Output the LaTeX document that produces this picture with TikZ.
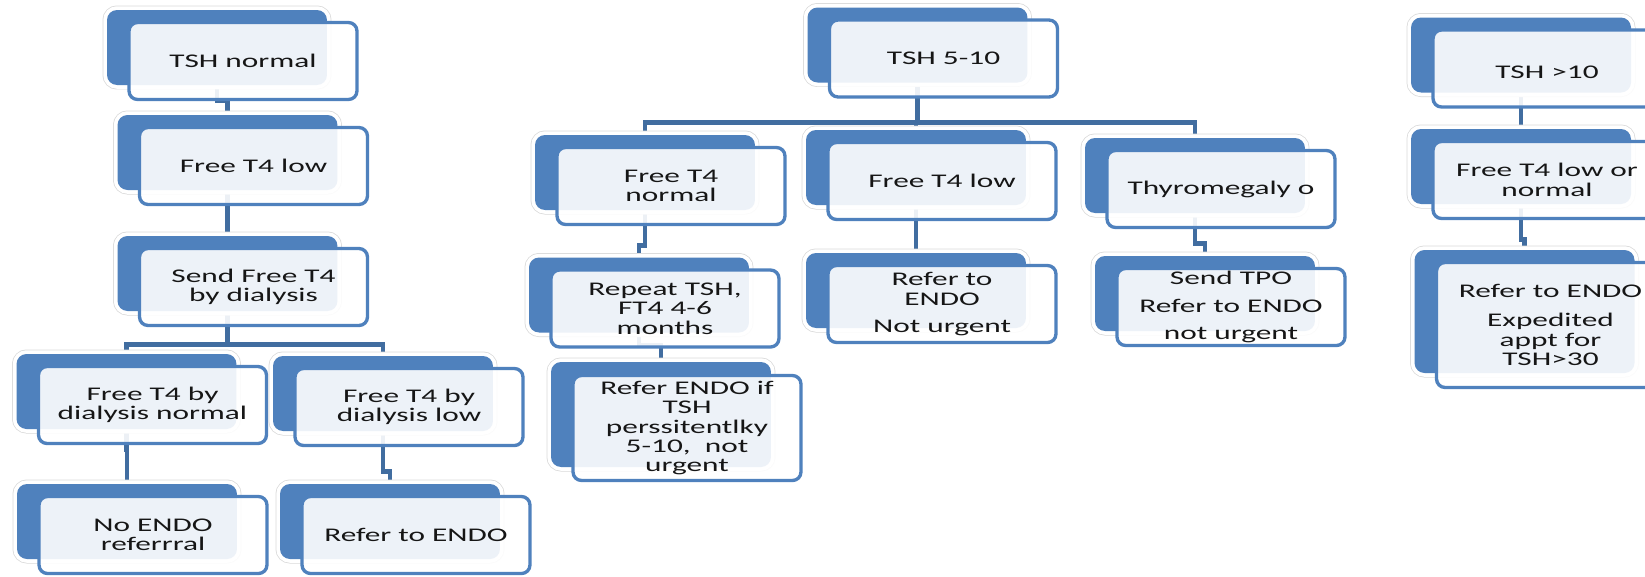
\documentclass[tikz,border=0pt]{standalone}
\usepackage{fontspec}
\setmainfont{Carlito}[FakeStretch=1.62]
\usetikzlibrary{calc,backgrounds}
\definecolor{boxblue}{RGB}{79,129,189}
\definecolor{linkblue}{RGB}{65,109,160}
\definecolor{txtgray}{RGB}{22,22,22}

\tikzset{
	back/.style={fill=boxblue, rounded corners=0.2cm, minimum width=4.4cm, minimum height=1.5cm, inner sep=0pt,
		preaction={draw=gray!30, line width=0.18cm}, preaction={draw=white, line width=0.15cm}},
	front/.style={draw=boxblue, line width=1.9pt, fill=white, fill opacity=0.9, text opacity=1, text=txtgray,
		rounded corners=0.17cm, minimum width=4.56cm, minimum height=1.54cm, inner sep=0pt, align=center,
		font=\fontsize{11}{11}\selectfont},
	link/.style={draw=linkblue, line width=2.8pt}
}

\begin{document}
\begin{tikzpicture}[x=0.02cm, y=-0.02cm]
	\clip (0,0) rectangle (1645,576);
	
	% back boxes
	\node[back] (b1) at (217,47.5) {};
	\node[back] (b2) at (227.5,152.5) {};
	\node[back] (b3) at (227.5,273.5) {};
	\node[back] (b4) at (126.5,391.5) {};
	\node[back] (b5) at (383,393.5) {};
	\node[back] (b6) at (127,521.5) {};
	\node[back] (b7) at (390,521.5) {};
	
	\node[back] (b8) at (917.5,45) {};
	\node[back] (b9) at (645,172.5) {};
	\node[back] (b10) at (916,167.5) {};
	\node[back] (b11) at (1195,175.5) {};
	\node[back] (b12) at (1205,293.5) {};
	\node[back] (b13) at (639,295) {};
	\node[back, minimum height=2.1cm] (b14) at (661,414.5) {};
	\node[back] (b15) at (916,290.5) {};
	
	\node[back] (b16) at (1521,55) {};
	\node[back] (b17) at (1521,166.5) {};
	\node[back, minimum height=2.46cm] (b18) at (1524.5,311.5) {};
	
	% connectors
	\begin{pgfonlayer}{background}
	\draw[link] (b1.south) -- ++(0,15) -| (b2.north);
	\draw[link] (b2.south) -- ++(0,32) -| (b3.north);
	\draw[link] (b3.south) -- ++(0,33) -| (b4.north);
	\draw[link] (b3.south) -- ++(0,33) -| (b5.north);
	\draw[link] (b4.south) -- ++(0,20) -| (b6.north);
	\draw[link] (b5.south) -- ++(0,40) -| (b7.north);
	
	\draw[link] (b8.south) -- ++(0,40) -| (b9.north);
	\draw[link] (b8.south) -- ++(0,40) -| (b11.north);
	\draw[link] (b8.south) -- ++(0,40) -| (b10.north);
	\draw[link] (b9.south) -- ++(0,35) -| (b13.north);
	\draw[link] (b13.south) -- ++(0,13) -| (b14.north);
	\draw[link] (b10.south) -- ++(0,20) -| (b15.north);
	\draw[link] (b11.south) -- ++(0,30) -| (b12.north);
	
	\draw[link] (b16.south) -- ++(0,20) -| (b17.north);
	\draw[link] (b17.south) -- ++(0,35) -| (b18.north);
	\end{pgfonlayer}
	
	% front boxes
	\node[front] (f1) at ($(b1)+(26,13.5)$) {TSH normal};
	\node[front] (f2) at ($(b2)+(26,13.5)$) {Free T4 low};
	\node[front] (f3) at ($(b3)+(26,13.5)$) {Send Free T4\\by dialysis};
	\node[front] (f4) at ($(b4)+(26,13.5)$) {Free T4 by\\dialysis normal};
	\node[front] (f5) at ($(b5)+(26,13.5)$) {Free T4 by\\dialysis low};
	\node[front] (f6) at ($(b6)+(26,13.5)$) {No ENDO\\referrral};
	\node[front] (f7) at ($(b7)+(26,13.5)$) {Refer to ENDO};
	
	\node[front] (f8) at ($(b8)+(26,13.5)$) {TSH 5-10};
	\node[front] (f9) at ($(b9)+(26,13.5)$) {Free T4\\normal};
	\node[front] (f10) at ($(b10)+(26,13.5)$) {Free T4 low};
	\node[front] (f11) at ($(b11)+(26,13.5)$) {Thyromegaly o};
	\node[front] (f12) at ($(b12)+(26,13.5)$) {Send TPO\\[0.17cm]Refer to ENDO\\[0.17cm]not urgent};
	\node[front] (f13) at ($(b13)+(26,13.5)$) {Repeat TSH,\\FT4 4-6\\months};
	\node[front, minimum height=2.1cm] (f14) at ($(b14)+(26,13.5)$) {Refer ENDO if\\TSH\\perssitentlky\\5-10,\ \ not\\urgent};
	\node[front] (f15) at ($(b15)+(26,13.5)$) {Refer to\\ENDO\\[0.15cm]Not urgent};
	
	\node[front] (f16) at ($(b16)+(26,13.5)$) {\mbox{}\\TSH >10};
	\node[front] (f17) at ($(b17)+(26,13.5)$) {Free T4 low or\\normal};
	\node[front, minimum height=2.5cm] (f18) at ($(b18)+(26,13.5)$) {Refer to ENDO\\[0.2cm]Expedited\\appt for\\TSH>30};
\end{tikzpicture}
\end{document}
